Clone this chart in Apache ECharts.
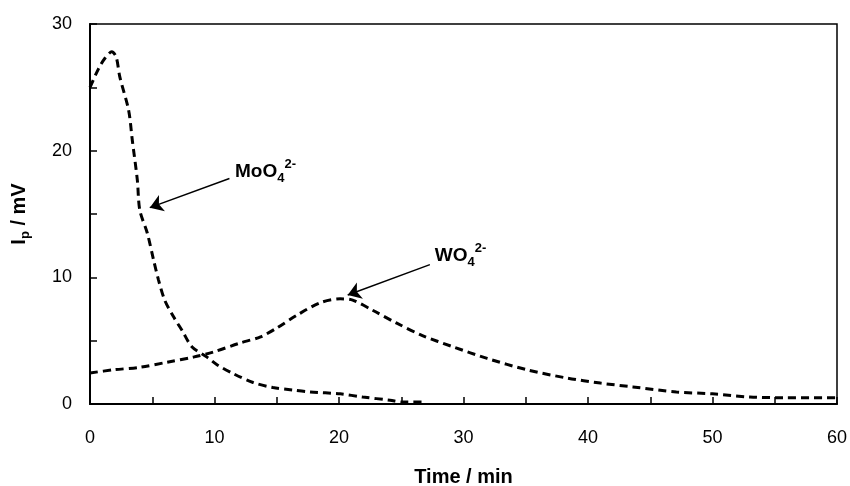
<!DOCTYPE html>
<html>
<head>
<meta charset="utf-8">
<script src="https://cdn.jsdelivr.net/npm/echarts@6/dist/echarts.min.js"></script>
<style>
  html, body { margin: 0; padding: 0; background: #fff; }
  #chart { width: 850px; height: 486px; }
</style>
</head>
<body>
<div id="chart"></div>
<script>
// values (time in min, Ip in mV)
const moTime = [0, 0.7, 1.2, 1.75, 2.1, 2.4, 3.1, 3.4, 3.8, 4.0, 4.6, 5.1, 5.5, 6.0, 6.7, 7.4, 8.2, 9.4, 10.2, 11.5, 13.1, 14.7, 16.3, 17.7, 20.1, 21.9, 24.1, 25.1, 26.9]
const moIp = [25.0, 26.5, 27.3, 27.8, 27.4, 25.8, 23.2, 20.8, 17.7, 15.3, 13.5, 11.4, 9.8, 8.2, 6.9, 5.8, 4.5, 3.7, 3.1, 2.4, 1.7, 1.3, 1.1, 0.95, 0.8, 0.55, 0.3, 0.15, 0.15]

const wTime = [0, 1.9, 4.0, 6.2, 8.3, 9.9, 12.0, 13.7, 15.0, 16.6, 18.5, 20.1, 21.1, 22.7, 24.6, 26.7, 29.2, 31.9, 35.1, 38.3, 41.0, 43.6, 47.1, 50.0, 53.0, 55.7, 58.9, 60]
const wIp = [2.45, 2.7, 2.9, 3.3, 3.7, 4.1, 4.8, 5.3, 6.0, 7.0, 8.0, 8.3, 8.2, 7.4, 6.4, 5.4, 4.5, 3.6, 2.7, 2.05, 1.65, 1.35, 0.95, 0.8, 0.55, 0.5, 0.5, 0.5]

const xTicks = [0, 10, 20, 30, 40, 50, 60]
const yTicks = [0, 10, 20, 30]

// annotation: text anchor, arrow start, arrow tip (data coords)
const moLabel = [11.65, 18.35]
const moArrow = [[11.2, 17.8], [4.8, 15.5]]
const wLabel = [27.7, 11.72]
const wArrow = [[27.3, 11.0], [20.7, 8.6]]

const pairs = (xs, ys) => xs.map((x, i) => [x, ys[i]])

const chart = echarts.init(document.getElementById('chart'))

const font = 'Liberation Sans, Arial, sans-serif'
const dash = { color: '#000', width: 3, type: [8, 5] }
const arrowLine = { color: '#000', width: 1.5, type: 'solid' }

const option = {
  animation: false,
  backgroundColor: '#fff',
  textStyle: { fontFamily: font, color: '#000' },
  grid: {
    left: 90, right: 13, top: 24, bottom: 82,
    outerBoundsMode: 'none',
    show: true, borderColor: '#000', borderWidth: 1.5
  },
  xAxis: {
    type: 'value', min: 0, max: 60, interval: 5,
    name: 'Time / min', nameLocation: 'middle', nameGap: 63,
    nameTextStyle: { fontSize: 20, fontWeight: 'bold', color: '#000' },
    axisLine: { show: true, lineStyle: { color: '#000', width: 2 } },
    axisTick: { show: true, inside: true, length: 7, lineStyle: { color: '#000', width: 1.5 } },
    axisLabel: {
      fontSize: 18, color: '#000', margin: 25,
      formatter: v => xTicks.includes(v) ? String(v) : ''
    },
    splitLine: { show: false }
  },
  yAxis: {
    type: 'value', min: 0, max: 30, interval: 5,
    name: '{m|I}{s|p}{m| / mV}', nameLocation: 'middle', nameGap: 58, nameRotate: 90,
    nameTextStyle: {
      rich: {
        m: { fontSize: 20, fontWeight: 'bold', color: '#000', lineHeight: 26, verticalAlign: 'middle' },
        s: { fontSize: 13, fontWeight: 'bold', color: '#000', verticalAlign: 'bottom', lineHeight: 26 }
      }
    },
    axisLine: { show: true, lineStyle: { color: '#000', width: 2 } },
    axisTick: { show: true, inside: true, length: 7, lineStyle: { color: '#000', width: 1.5 } },
    axisLabel: {
      fontSize: 18, color: '#000', margin: 18,
      formatter: v => yTicks.includes(v) ? String(v) : ''
    },
    splitLine: { show: false }
  },
  series: [
    {
      name: 'MoO4',
      type: 'line',
      data: pairs(moTime, moIp),
      smooth: 0.3,
      showSymbol: false,
      lineStyle: dash,
      markLine: {
        silent: true,
        symbol: ['none', 'arrow'],
        symbolSize: 13,
        label: { show: false },
        lineStyle: arrowLine,
        data: [
          [{ coord: moArrow[0] }, { coord: moArrow[1] }],
          [{ coord: wArrow[0] }, { coord: wArrow[1] }]
        ]
      }
    },
    {
      name: 'WO4',
      type: 'line',
      data: pairs(wTime, wIp),
      smooth: 0.3,
      showSymbol: false,
      lineStyle: dash
    }
  ]
}

chart.setOption(option)

const richIon = {
  m: { fontSize: 19, fontWeight: 'bold', fill: '#000', lineHeight: 27, verticalAlign: 'middle', fontFamily: font },
  sub: { fontSize: 13, fontWeight: 'bold', fill: '#000', lineHeight: 27, verticalAlign: 'bottom', fontFamily: font },
  sup: { fontSize: 13, fontWeight: 'bold', fill: '#000', lineHeight: 27, verticalAlign: 'top', fontFamily: font }
}

const ionText = (pos, base) => {
  const p = chart.convertToPixel({ gridIndex: 0 }, pos)
  return {
    type: 'text', x: p[0], y: p[1], silent: true,
    style: {
      text: `{m|${base}}{sub|4}{sup|2-}`,
      rich: richIon,
      verticalAlign: 'middle', align: 'left'
    }
  }
}

chart.setOption({
  graphic: [ionText(moLabel, 'MoO'), ionText(wLabel, 'WO')]
})
</script>
</body>
</html>
